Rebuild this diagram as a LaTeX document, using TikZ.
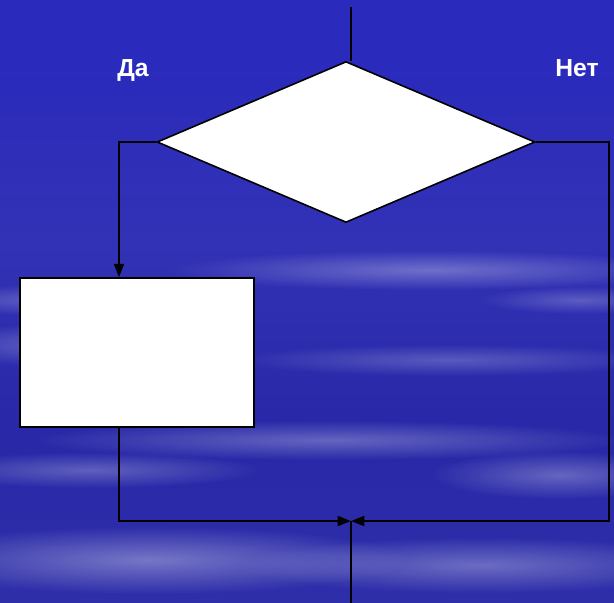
\documentclass[tikz,border=0pt]{standalone}
\usepackage{fontspec}
\setmainfont{Liberation Sans}
\usetikzlibrary{shapes.geometric,arrows.meta,fadings}
\definecolor{c0}{RGB}{100,104,194}
\definecolor{c1}{RGB}{96,100,192}
\definecolor{c2}{RGB}{48,48,170}
\definecolor{c3}{RGB}{40,40,168}
\definecolor{c4}{RGB}{50,50,182}
\definecolor{c5}{RGB}{42,42,188}
\definecolor{c6}{RGB}{44,44,196}
\pgfdeclareverticalshading{skybg}{100bp}{color(0bp)=(c0); color(12bp)=(c1); color(22bp)=(c2); color(40bp)=(c3); color(55bp)=(c4); color(70bp)=(c5); color(100bp)=(c6)}
\tikzfading[name=softfade, inner color=transparent!0, outer color=transparent!100]
\tikzset{
  arr/.style={draw=black, line width=1.5pt, -{Triangle[length=10pt,width=7.5pt]}},
  ln/.style={draw=black, line width=1.5pt},
  decision/.style={diamond, draw=black, fill=white, line width=1.2pt, inner sep=0pt, minimum width=283.5pt, minimum height=120.75pt},
  actbox/.style={rectangle, draw=black, fill=white, line width=1.2pt, inner sep=0pt, minimum width=175.5pt, minimum height=111.75pt},
  lbl/.style={text=white, font=\fontsize{18.5pt}{20pt}\selectfont\bfseries},
  streak/.style={fill=white, path fading=softfade}
}
\begin{document}
\begin{tikzpicture}[x=0.75pt,y=-0.75pt]
\useasboundingbox (0,0) rectangle (614,603);
\shade[shading=skybg] (0,0) rectangle (614,603);
% cloud streaks
\fill[streak, opacity=0.30] (430,270) ellipse [x radius=260, y radius=20];
\fill[streak, opacity=0.25] (60,300) ellipse [x radius=140, y radius=16];
\fill[streak, opacity=0.25] (50,345) ellipse [x radius=110, y radius=22];
\fill[streak, opacity=0.22] (450,360) ellipse [x radius=220, y radius=16];
\fill[streak, opacity=0.28] (330,440) ellipse [x radius=300, y radius=20];
\fill[streak, opacity=0.25] (90,470) ellipse [x radius=170, y radius=18];
\fill[streak, opacity=0.28] (560,475) ellipse [x radius=130, y radius=24];
\fill[streak, opacity=0.35] (150,560) ellipse [x radius=260, y radius=34];
\fill[streak, opacity=0.30] (480,565) ellipse [x radius=240, y radius=28];
\fill[streak, opacity=0.22] (580,300) ellipse [x radius=100, y radius=14];

\node[decision] (d) at (346,142) {};
\node[actbox] (r) at (137,352.5) {};
\node[lbl] (da) at (133,70) {Да};
\node[lbl] (net) at (577,68) {Нет};

\coordinate (top) at (351,7);
\coordinate (ya) at (119,142);
\coordinate (na) at (609,142);
\coordinate (m) at (351,521);
\coordinate (bot) at (351,603);

\draw[ln] (top) -- (top |- d.north);
\draw[arr] (d.west) -- (ya) -- (ya |- r.north);
\draw[arr] (d.east) -- (na) |- (m);
\draw[arr] (ya |- r.south) |- (m);
\draw[ln] (m) -- (bot);
\end{tikzpicture}
\end{document}
